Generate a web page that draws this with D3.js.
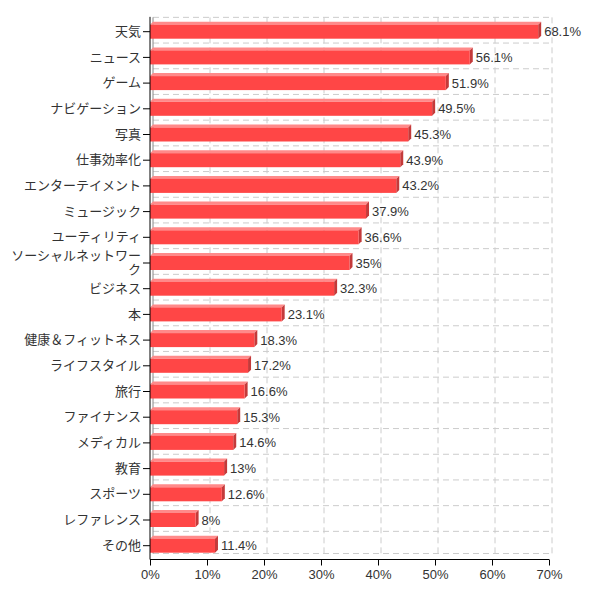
<!DOCTYPE html>
<html lang="ja">
<head>
    <meta charset="UTF-8">
    <title>chart</title>
    <script src="https://cdnjs.cloudflare.com/ajax/libs/d3/7.8.5/d3.min.js"></script>
    <style>
        body { margin: 0; background: #fff; }
        svg text { font-family: "Liberation Sans", "Noto Sans CJK JP", sans-serif; font-size: 13px; fill: #333; }
    </style>
</head>
<body>
<svg id="chart" width="598" height="598"></svg>
<script>
    // data
    const categories = ["天気", "ニュース", "ゲーム", "ナビゲーション", "写真", "仕事効率化", "エンターテイメント",
        "ミュージック", "ユーティリティ", "ソーシャルネットワーク", "ビジネス", "本", "健康＆フィットネス",
        "ライフスタイル", "旅行", "ファイナンス", "メディカル", "教育", "スポーツ", "レファレンス", "その他"];
    const values = [68.1, 56.1, 51.9, 49.5, 45.3, 43.9, 43.2, 37.9, 36.6, 35, 32.3, 23.1, 18.3, 17.2, 16.6,
        15.3, 14.6, 13, 12.6, 8, 11.4];
    const xTicks = [0, 10, 20, 30, 40, 50, 60, 70];

    const plotLeft = 150, plotRight = 549, plotTop = 18.85, plotBottom = 558.55, axisY = 559.5;
    const depth = 3, barH = 14, floorY = 553.5;

    const svg = d3.select("#chart");
    const x = d3.scaleLinear().domain([0, 70]).range([plotLeft, plotRight]);
    const y = d3.scaleBand().domain(categories).range([plotTop, plotBottom]);

    // back wall grid
    const grid = svg.append("g");
    grid.selectAll("line.v")
        .data(xTicks.slice(1))
        .enter().append("line")
        .attr("x1", d => x(d) + depth).attr("x2", d => x(d) + depth)
        .attr("y1", plotTop - 1.5).attr("y2", floorY)
        .attr("stroke", "#ccc").attr("stroke-dasharray", "6,4");
    const hLines = categories.map((c, i) => plotTop + i * y.step() - 1.5).concat([floorY]);
    grid.selectAll("line.h")
        .data(hLines)
        .enter().append("line")
        .attr("x1", plotLeft + depth).attr("x2", plotRight + depth)
        .attr("y1", d => d).attr("y2", d => d)
        .attr("stroke", "#ccc").attr("stroke-dasharray", "6,4");
    grid.append("line")
        .attr("x1", plotLeft + depth).attr("x2", plotLeft + depth)
        .attr("y1", plotTop - 1.5).attr("y2", floorY)
        .attr("stroke", "#888");

    // bars
    const bars = svg.append("g").selectAll("g")
        .data(categories.map((c, i) => ({cat: c, value: values[i]})))
        .enter().append("g");

    const frontTop = d => y(d.cat) + y.bandwidth() / 2 - barH / 2;

    bars.append("path")
        .attr("fill", "#ff8a8a")
        .attr("d", d => {
            const t = frontTop(d), x0 = x(0), x1 = x(d.value);
            return `M${x0},${t}L${x0 + depth},${t - depth}L${x1 + depth},${t - depth}L${x1},${t}Z`;
        });
    bars.append("path")
        .attr("fill", "#c43a3a")
        .attr("d", d => {
            const t = frontTop(d), x1 = x(d.value);
            return `M${x1},${t}L${x1 + depth},${t - depth}L${x1 + depth},${t + barH - depth}L${x1},${t + barH}Z`;
        });
    bars.append("rect")
        .attr("x", x(0))
        .attr("y", d => frontTop(d))
        .attr("width", d => x(d.value) - x(0))
        .attr("height", barH)
        .attr("fill", "#ff4646");

    bars.append("text")
        .attr("x", d => x(d.value) + depth + 3)
        .attr("y", d => y(d.cat) + y.bandwidth() / 2)
        .attr("dy", "0.35em")
        .text(d => d.value + "%");

    // axes
    const yAxis = svg.append("g")
        .attr("transform", `translate(${plotLeft},0)`)
        .call(d3.axisLeft(y).tickSize(7).tickPadding(2).tickSizeOuter(0));
    yAxis.select(".domain").attr("d", `M0,${plotTop - 2}V${axisY}`).attr("stroke", "#000");
    yAxis.selectAll(".tick line").attr("stroke", "#000");
    yAxis.selectAll(".tick text").attr("font-size", 13).each(function () {
        const t = d3.select(this), word = t.text(), maxW = 135;
        if (this.getComputedTextLength() <= maxW) return;
        const lines = [];
        let line = "";
        t.text("");
        for (const ch of word) {
            t.text(line + ch);
            if (this.getComputedTextLength() > maxW && line) {
                lines.push(line);
                line = ch;
            } else {
                line += ch;
            }
        }
        lines.push(line);
        t.text(null);
        lines.forEach((l, i) => {
            t.append("tspan")
                .attr("x", -9)
                .attr("dy", i === 0 ? `${0.32 - (lines.length - 1) * 0.55}em` : "1.1em")
                .text(l);
        });
        t.attr("dy", null);
    });

    const xAxis = svg.append("g")
        .attr("transform", `translate(0,${axisY})`)
        .call(d3.axisBottom(x).tickValues(xTicks).tickFormat(d => d + "%").tickSize(6).tickPadding(4).tickSizeOuter(0));
    xAxis.select(".domain").attr("d", `M${plotLeft},0H${plotRight}`).attr("stroke", "#000");
    xAxis.selectAll(".tick line").attr("stroke", "#000");
    xAxis.selectAll(".tick text").attr("font-size", 12);
    svg.selectAll(".tick text").attr("fill", "#333");
</script>
</body>
</html>
